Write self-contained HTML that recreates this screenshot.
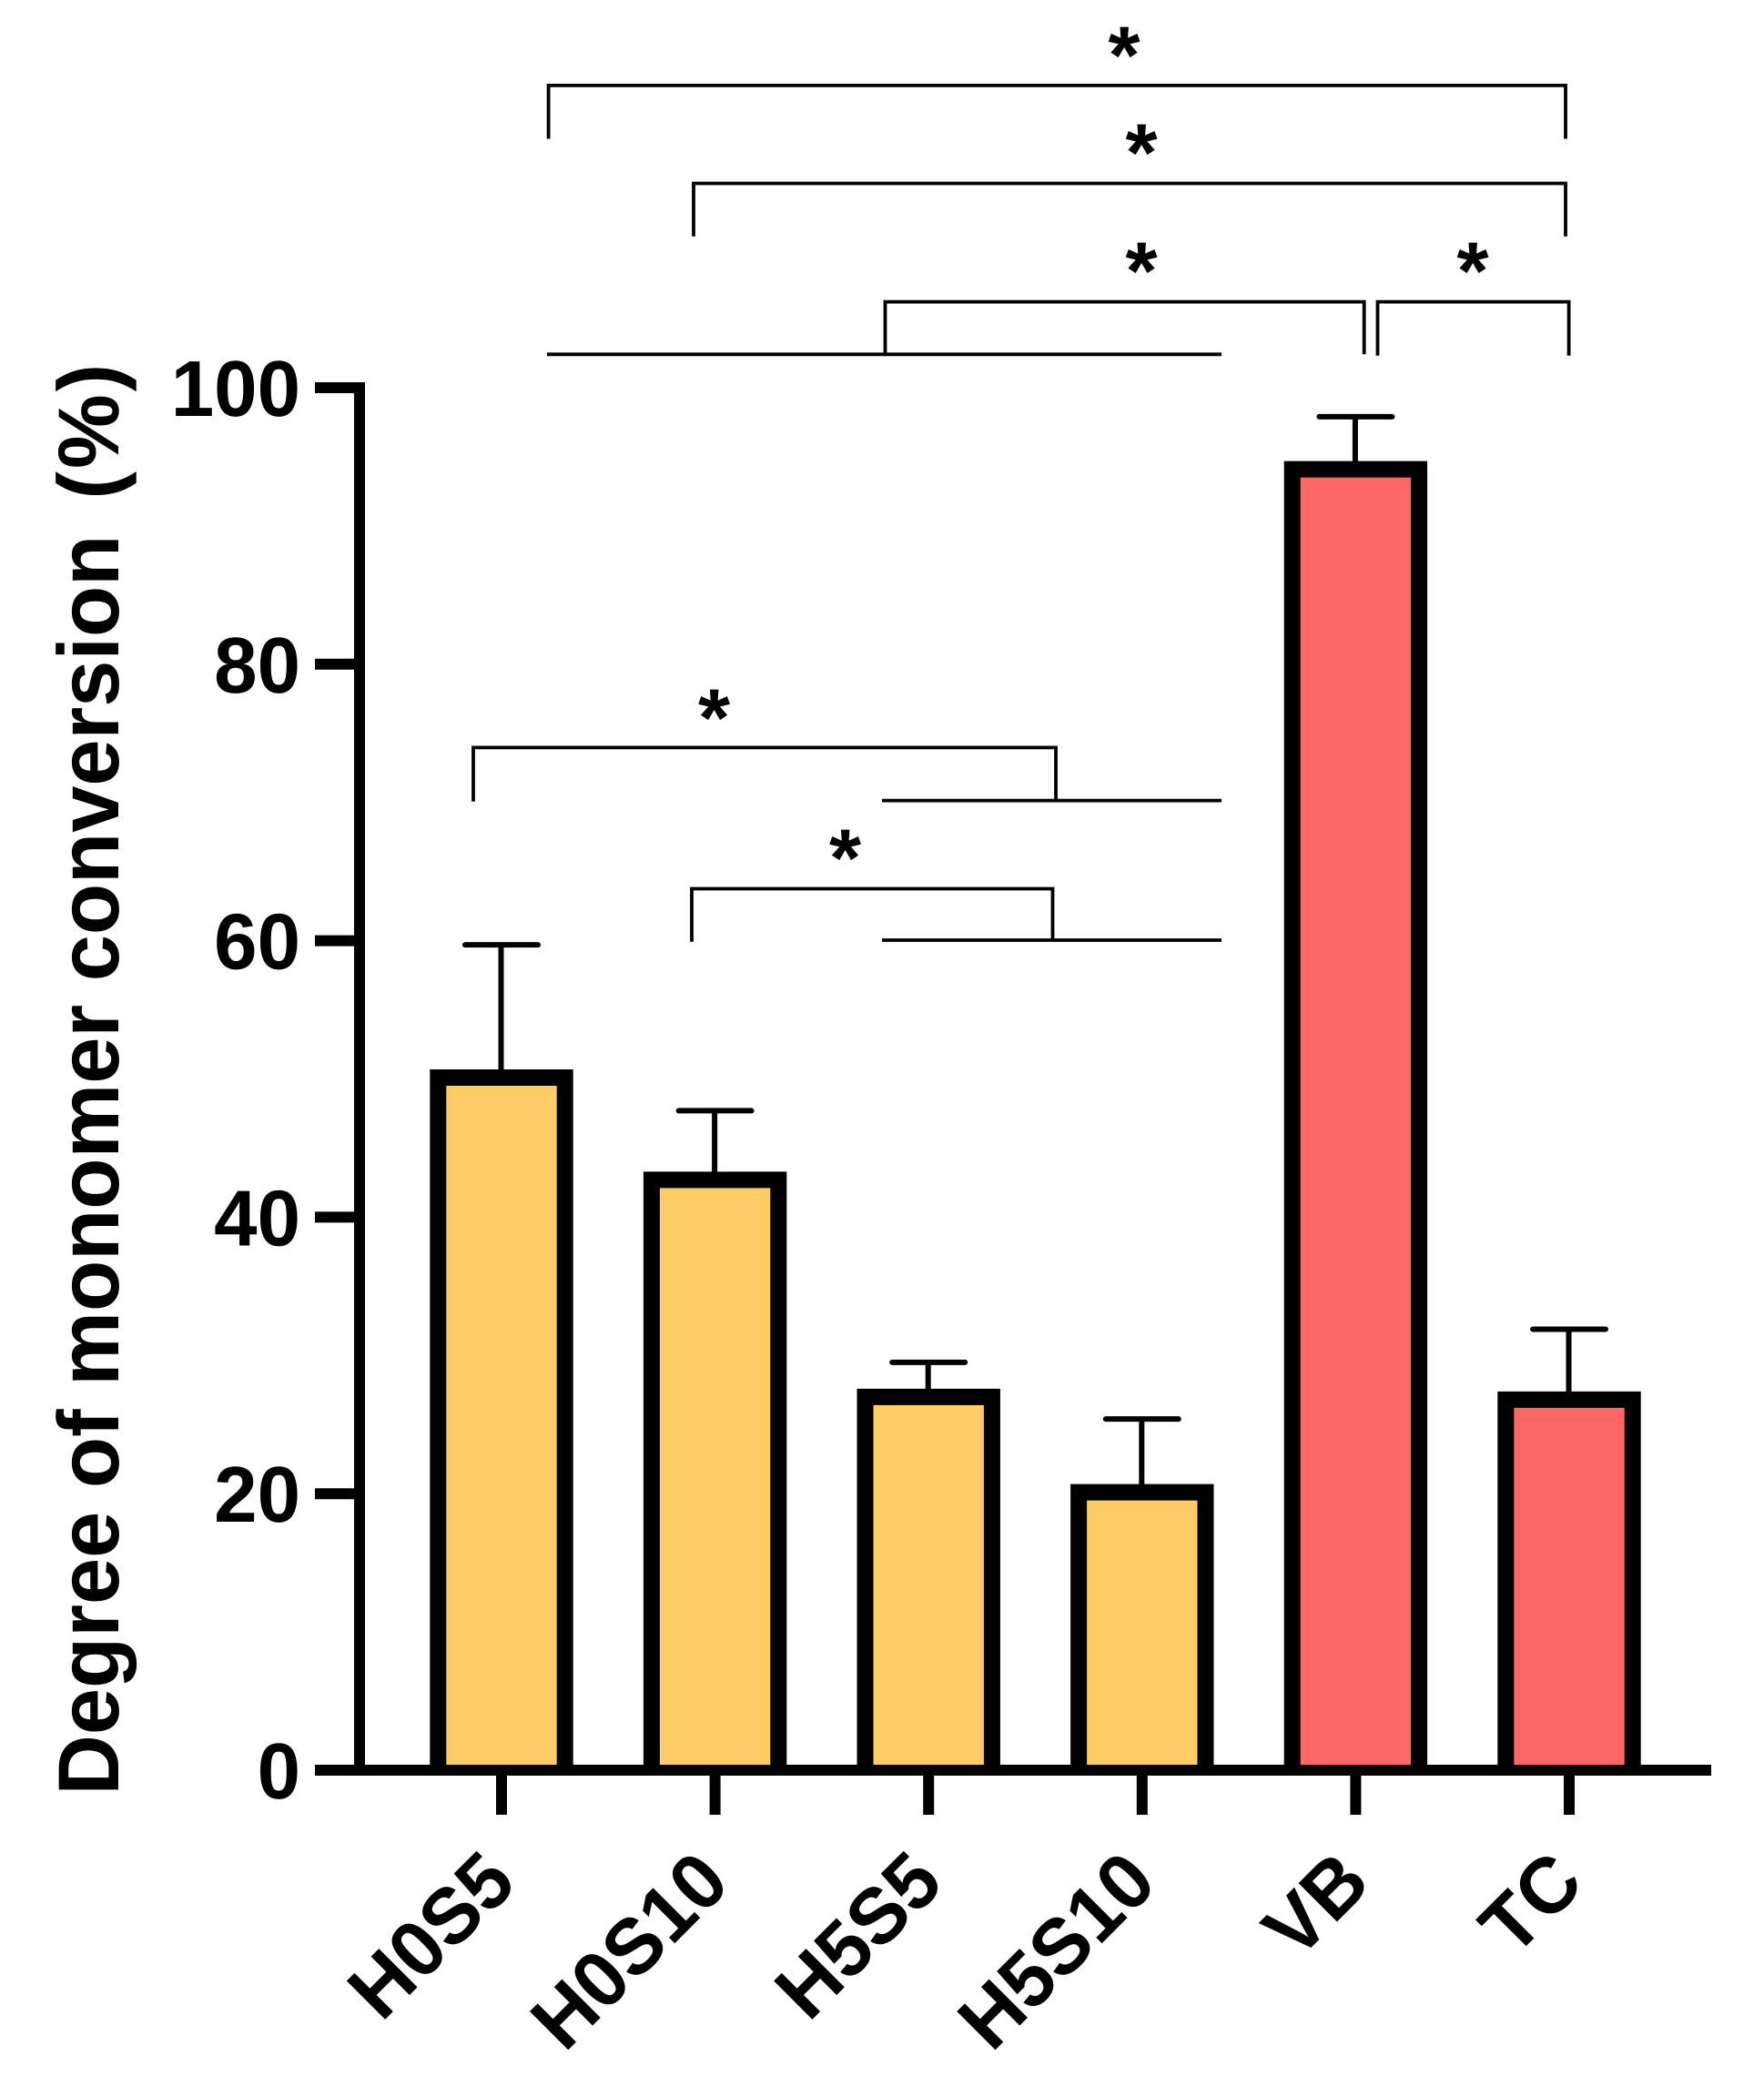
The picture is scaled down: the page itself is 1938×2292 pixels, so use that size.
<!DOCTYPE html>
<html lang="en">
<head>
<meta charset="utf-8">
<title>Degree of monomer conversion</title>
<style>
html,body{margin:0;padding:0;background:#fff;width:1938px;height:2292px;overflow:hidden}
svg{display:block;font-family:"Liberation Sans",Arial,sans-serif;font-weight:bold}
text{fill:#000;text-rendering:geometricPrecision}
</style>
</head>
<body>
<svg id="chart" xmlns="http://www.w3.org/2000/svg" width="1938" height="2292" viewBox="0 0 1938 2292">
<rect x="0" y="0" width="1938" height="2292" fill="#fff"/>
<text transform="translate(130,1972.5) rotate(-90) scale(.968,1)" font-size="95">Degree of monomer conversion <tspan x="1471" letter-spacing="3">(%)</tspan></text>
<g id="bars"></g>
<g id="axes"></g>
<g fill="none" stroke="#000" stroke-width="3.8">
<path d="M602.6 152.5V93.9H1720V152.5"/>
<path d="M762 259.7V201.5H1720V259.7"/>
<path d="M972.5 389.3V331.6H1498.7V389.3"/>
<path d="M601 389.3H1342"/>
<path d="M1513.5 390.8V331.6H1723.6V390.8"/>
<path d="M520 880.6V821.4H1160V880"/>
<path d="M969 879.6H1342"/>
<path d="M760 1034.7V976.5H1156.5V1033"/>
<path d="M969 1033H1342"/>
</g>
<g font-size="90" text-anchor="middle">
<text x="1235" y="91.5">*</text>
<text x="1254" y="198.5">*</text>
<text x="1254" y="328.5">*</text>
<text x="1618" y="328.5">*</text>
<text x="784.5" y="819.5">*</text>
<text x="928.5" y="973.5">*</text>
</g>
</svg>
<script>
const categories = ['H0S5', 'H0S10', 'H5S5', 'H5S10', 'VB', 'TC'];
const meanValues = [50.1, 42.7, 27.0, 20.1, 94.1, 26.8];
const upperErrorValues = [59.7, 47.7, 29.5, 25.4, 97.9, 31.9];
const barColors = ['#FDCC66', '#FDCC66', '#FDCC66', '#FDCC66', '#FF6666', '#FF6666'];
const yTickValues = [0, 20, 40, 60, 80, 100];

const NS = 'http://www.w3.org/2000/svg';
const bars = document.getElementById('bars');
const axes = document.getElementById('axes');
const yScale = v => 1945 - (v / 100) * 1519;
const xScale = i => 551 + i * 234.6;

function make(parent, tag, attrs, text) {
  const el = document.createElementNS(NS, tag);
  for (const k in attrs) el.setAttribute(k, attrs[k]);
  if (text !== undefined) el.textContent = text;
  parent.appendChild(el);
  return el;
}

categories.forEach((cat, i) => {
  const cx = xScale(i);
  const top = yScale(meanValues[i]);
  const capY = yScale(upperErrorValues[i]);
  const base = yScale(0);
  const key = cat.toLowerCase();
  const stem = make(bars, 'line', {x1: cx - 0.5, x2: cx - 0.5, y1: capY, y2: top, stroke: '#000', 'stroke-width': 6});
  
  
  const cap = make(bars, 'line', {x1: cx - 40, x2: cx + 40, y1: capY, y2: capY, stroke: '#000', 'stroke-width': 6, 'stroke-linecap': 'round'});
  
  
  const left = cx - 69.7;
  const right = cx + 69.7;
  const bar = make(bars, 'path', {d: 'M' + left + ' ' + base + 'V' + top + 'H' + right + 'V' + base, fill: barColors[i], stroke: '#000', 'stroke-width': 18});
  
  
  const tick = make(axes, 'line', {x1: cx, x2: cx, y1: base, y2: 1994, stroke: '#000', 'stroke-width': 12});
  
  
  const label = make(axes, 'text', {transform: 'translate(' + (cx + 19) + ',2072) rotate(-45) scale(.98,1)', 'font-size': 87, 'text-anchor': 'end'}, cat);
  
  
});

const yAxisLine = make(axes, 'line', {x1: 395, x2: 395, y1: yScale(100) - 6, y2: yScale(0) + 6, stroke: '#000', 'stroke-width': 12});


const xAxisLine = make(axes, 'line', {x1: 346, x2: 1880, y1: yScale(0), y2: yScale(0), stroke: '#000', 'stroke-width': 12});



yTickValues.forEach(v => {
  const y = yScale(v);
  const tick = make(axes, 'line', {x1: 346, x2: 395, y1: y, y2: y, stroke: '#000', 'stroke-width': 12});
  
  
  const label = make(axes, 'text', {transform: 'translate(330,' + (y + 31) + ') scale(.98,1)', 'font-size': 87, 'text-anchor': 'end'}, String(v));
  
  
});
</script>
</body>
</html>
